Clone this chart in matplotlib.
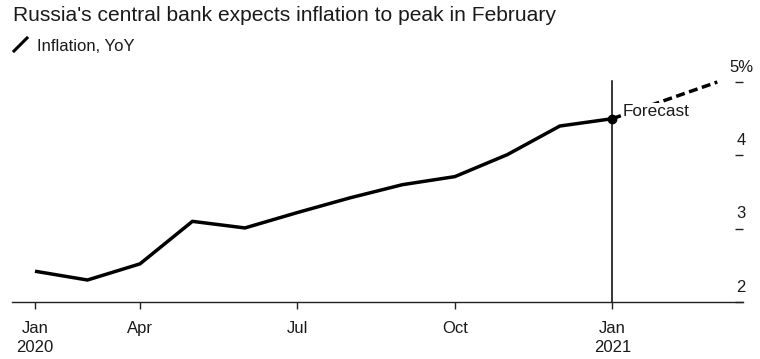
import matplotlib
matplotlib.use("Agg")
import matplotlib.pyplot as plt
from matplotlib.lines import Line2D

plt.rcParams['font.family'] = ['Liberation Sans', 'DejaVu Sans']

# ---- data ----
months_idx = [0, 1, 2, 3, 4, 5, 6, 7, 8, 9, 10, 11]
inflation = [2.42, 2.30, 2.52, 3.10, 3.01, 3.22, 3.42, 3.60, 3.71, 4.01, 4.40, 4.50]
forecast_idx = [11, 12, 13]
forecast_vals = [4.50, 4.75, 5.00]
xtick_pos = [0, 2, 5, 8, 11]
xtick_labels = ['Jan\n2020', 'Apr', 'Jul', 'Oct', 'Jan\n2021']
ytick_vals = [2, 3, 4, 5]
ytick_labels = ['2', '3', '4', '5%']
title = "Russia's central bank expects inflation to peak in February"
legend_label = "Inflation, YoY"
forecast_label = "Forecast"

W, H = 760, 359
fig = plt.figure(figsize=(W / 100, H / 100), dpi=100)
fig.patch.set_facecolor('white')

ax_left, ax_right = 12, 743
y_bottom_px, y_top_px = 302, 74.7
ax = fig.add_axes([ax_left / W, (H - y_bottom_px) / H,
                   (ax_right - ax_left) / W, (y_bottom_px - y_top_px) / H])

txt = '#1a1a1a'
ax.plot(months_idx, inflation, color='black', lw=2.5, solid_joinstyle='miter',
        solid_capstyle='butt', zorder=3)
ax.plot(forecast_idx, forecast_vals, color='black', lw=2.5, linestyle=(0, (2.6, 1.3)),
        zorder=3)
ax.plot([months_idx[-1]], [inflation[-1]], 'o', color='black', ms=6, zorder=5)
ax.plot([months_idx[-1], months_idx[-1]], [2, 5.02], color='black', lw=1.1, zorder=2)
ax.text(months_idx[-1] + 0.2, inflation[-1] + 0.1, forecast_label, fontsize=12.3,
        color=txt, va='center', ha='left', zorder=4,
        bbox=dict(facecolor='white', edgecolor='none', pad=0.5))

ax.set_xlim(-0.438, 13.49)
ax.set_ylim(2, 5.1)

for s in ['top', 'right', 'left']:
    ax.spines[s].set_visible(False)
ax.spines['bottom'].set_color('#222222')
ax.spines['bottom'].set_linewidth(1.0)

ax.set_xticks(xtick_pos)
ax.set_xticklabels(xtick_labels, fontsize=12, color=txt, linespacing=1.3)
ax.tick_params(axis='x', length=5, width=1, color='#222222', pad=9)

ax.yaxis.tick_right()
ax.set_yticks(ytick_vals)
ax.tick_params(axis='y', direction='in', length=6, width=1, color='#222222',
               labelright=False)
for v, lab in zip(ytick_vals, ytick_labels):
    ax.annotate(lab, xy=(1, v), xycoords=('axes fraction', 'data'),
                xytext=(-2, 15), textcoords='offset pixels',
                ha='center', va='center', fontsize=12, color=txt)

# title & legend
fig.text(13 / W, 1 - 21 / H, title, fontsize=15.1, color=txt, ha='left', va='baseline')
fig.add_artist(Line2D([14 / W, 27 / W], [1 - 51 / H, 1 - 38 / H], color='black',
                      lw=2.2, transform=fig.transFigure))
fig.text(37 / W, 1 - 51 / H, legend_label, fontsize=12, color=txt, ha='left',
         va='baseline')

fig.savefig('out.png', dpi=100)
